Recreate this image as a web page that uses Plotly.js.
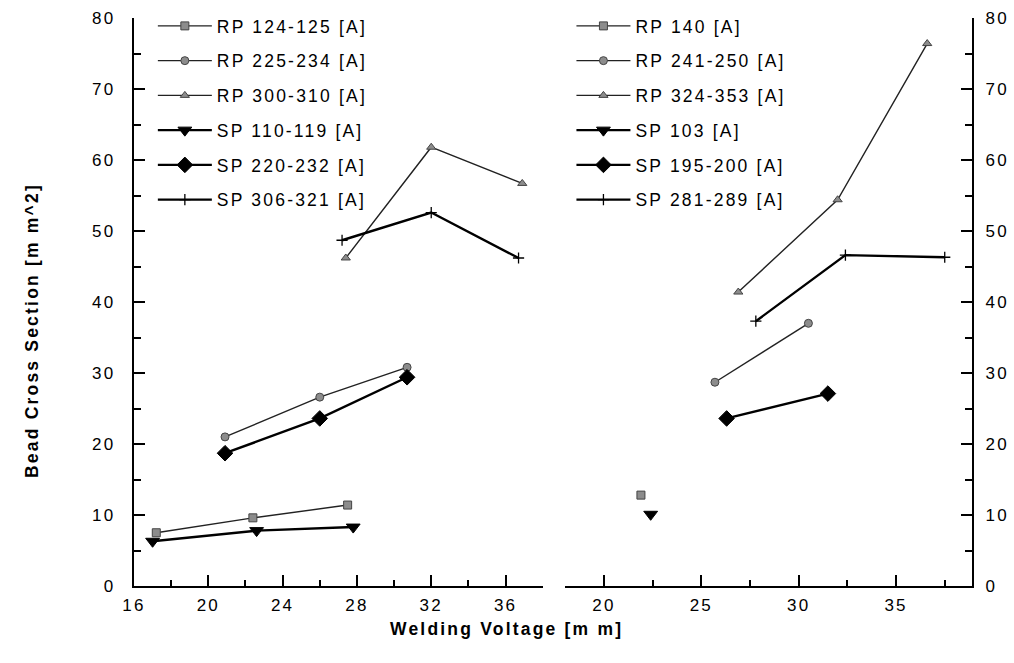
<!DOCTYPE html>
<html>
<head>
<meta charset="utf-8">
<script src="https://cdn.plot.ly/plotly-3.0.1.min.js"></script>
<style>
  html, body { margin: 0; padding: 0; background: #fff; }
  #chart { width: 1014px; height: 663px; }
  svg text { letter-spacing: 2.2px; }
</style>
</head>
<body>
<div id="chart"></div>
<script>
// ---- Left panel data ----
const rp124_x = [17.2, 22.4, 27.5];
const rp124_y = [7.5, 9.6, 11.4];
const rp225_x = [20.9, 26.0, 30.7];
const rp225_y = [21.0, 26.6, 30.8];
const rp300_x = [27.4, 32.0, 36.9];
const rp300_y = [46.2, 61.8, 56.7];
const sp110_x = [17.0, 22.6, 27.8];
const sp110_y = [6.3, 7.8, 8.3];
const sp220_x = [20.9, 26.0, 30.7];
const sp220_y = [18.7, 23.6, 29.4];
const sp306_x = [27.2, 32.0, 36.7];
const sp306_y = [48.7, 52.6, 46.2];

// ---- Right panel data ----
const rp140_x = [21.9];
const rp140_y = [12.8];
const rp241_x = [25.7, 30.5];
const rp241_y = [28.7, 37.0];
const rp324_x = [26.9, 32.0, 36.6];
const rp324_y = [41.4, 54.4, 76.4];
const sp103_x = [22.4];
const sp103_y = [10.1];
const sp195_x = [26.3, 31.5];
const sp195_y = [23.6, 27.1];
const sp281_x = [27.8, 32.4, 37.5];
const sp281_y = [37.3, 46.6, 46.3];

const FONT = 'Liberation Sans, Arial, sans-serif';
const GRAY = '#8c8c8c';
const GRAYLINE = '#444444';

function rp(name, x, y, symbol, xa, ya, leg, grp) {
  return {
    type: 'scatter', mode: 'lines+markers', name: name, x: x, y: y,
    xaxis: xa, yaxis: ya, legend: leg, legendgroup: grp,
    line: {color: '#222', width: 1.4},
    marker: {symbol: symbol, size: 8, color: GRAY, line: {color: GRAYLINE, width: 1}}
  };
}
function sp(name, x, y, symbol, size, xa, ya, leg, grp) {
  return {
    type: 'scatter', mode: 'lines+markers', name: name, x: x, y: y,
    xaxis: xa, yaxis: ya, legend: leg, legendgroup: grp,
    line: {color: '#000', width: 2.4},
    marker: {symbol: symbol, size: size, color: '#000', line: {color: '#000', width: 1}}
  };
}

const traces = [
  rp('RP 124-125 [A]', rp124_x, rp124_y, 'square', 'x', 'y', 'legend', 'a1'),
  rp('RP 225-234 [A]', rp225_x, rp225_y, 'circle', 'x', 'y', 'legend', 'a2'),
  rp('RP 300-310 [A]', rp300_x, rp300_y, 'triangle-up', 'x', 'y', 'legend', 'a3'),
  sp('SP 110-119 [A]', sp110_x, sp110_y, 'triangle-down', 12, 'x', 'y', 'legend', 'a4'),
  sp('SP 220-232 [A]', sp220_x, sp220_y, 'diamond', 12, 'x', 'y', 'legend', 'a5'),
  sp('SP 306-321 [A]', sp306_x, sp306_y, 'cross-thin', 8, 'x', 'y', 'legend', 'a6'),
  rp('RP 140 [A]', rp140_x, rp140_y, 'square', 'x2', 'y2', 'legend2', 'b1'),
  rp('RP 241-250 [A]', rp241_x, rp241_y, 'circle', 'x2', 'y2', 'legend2', 'b2'),
  rp('RP 324-353 [A]', rp324_x, rp324_y, 'triangle-up', 'x2', 'y2', 'legend2', 'b3'),
  sp('SP 103 [A]', sp103_x, sp103_y, 'triangle-down', 12, 'x2', 'y2', 'legend2', 'b4'),
  sp('SP 195-200 [A]', sp195_x, sp195_y, 'diamond', 12, 'x2', 'y2', 'legend2', 'b5'),
  sp('SP 281-289 [A]', sp281_x, sp281_y, 'cross-thin', 8, 'x2', 'y2', 'legend2', 'b6')
];
traces.forEach(t => { if (t.marker.symbol === 'cross-thin') t.marker.line = {color: '#000', width: 1.3}; });

const tickFont = {family: FONT, size: 17, color: '#000'};
const axBase = {
  showline: true, linecolor: '#000', linewidth: 2.2, showgrid: false, zeroline: false,
  ticks: 'inside', tickcolor: '#000', tickwidth: 2, ticklen: 11, tickfont: tickFont,
  fixedrange: true
};

const legendBase = {
  xanchor: 'left', yanchor: 'top', bgcolor: 'rgba(0,0,0,0)', borderwidth: 0,
  font: {family: FONT, size: 17.5, color: '#000'},
  traceorder: 'grouped', tracegroupgap: 9, itemwidth: 54, itemclick: false
};

const layout = {
  width: 1014, height: 663,
  margin: {l: 134, r: 42, t: 18, b: 77, autoexpand: false},
  paper_bgcolor: '#fff', plot_bgcolor: '#fff',
  showlegend: true,
  xaxis: Object.assign({}, axBase, {
    domain: [0, 0.4877], range: [16, 38], tick0: 16, dtick: 4, anchor: 'y',
    minor: {dtick: 2, ticks: 'inside', ticklen: 6, tickwidth: 2, tickcolor: '#000'},
    ticklabelstandoff: 2
  }),
  yaxis: Object.assign({}, axBase, {
    domain: [0, 1], range: [0, 80], tick0: 0, dtick: 10, anchor: 'x', side: 'left',
    minor: {dtick: 5, ticks: 'inside', ticklen: 7, tickwidth: 2, tickcolor: '#000'},
    ticklabelstandoff: 13
  }),
  xaxis2: Object.assign({}, axBase, {
    domain: [0.5143, 1], range: [18, 38.9], tick0: 20, dtick: 5, anchor: 'y2',
    minor: {dtick: 2.5, ticks: 'inside', ticklen: 6, tickwidth: 2, tickcolor: '#000'},
    ticklabelstandoff: 2
  }),
  yaxis2: Object.assign({}, axBase, {
    domain: [0, 1], range: [0, 80], tick0: 0, dtick: 10, anchor: 'x2', side: 'right',
    minor: {dtick: 5, ticks: 'inside', ticklen: 7, tickwidth: 2, tickcolor: '#000'},
    ticklabelstandoff: 8
  }),
  legend: Object.assign({}, legendBase, {x: 0.0225, y: 1.0176}),
  legend2: Object.assign({}, legendBase, {x: 0.522, y: 1.0176}),
  annotations: [
    {text: 'Welding Voltage [m m]', xref: 'paper', yref: 'paper',
     x: 0.445, y: -0.0545, xanchor: 'center', yanchor: 'top', showarrow: false,
     font: {family: FONT, size: 17.5, color: '#000', weight: 'bold'}},
    {text: 'Bead Cross Section [m m^2]', xref: 'paper', yref: 'paper',
     x: -0.121, y: 0.45, xanchor: 'center', yanchor: 'middle', showarrow: false,
     textangle: -90,
     font: {family: FONT, size: 17.5, color: '#000', weight: 'bold'}}
  ]
};

Plotly.newPlot('chart', traces, layout, {displayModeBar: false, staticPlot: true});
</script>
</body>
</html>
